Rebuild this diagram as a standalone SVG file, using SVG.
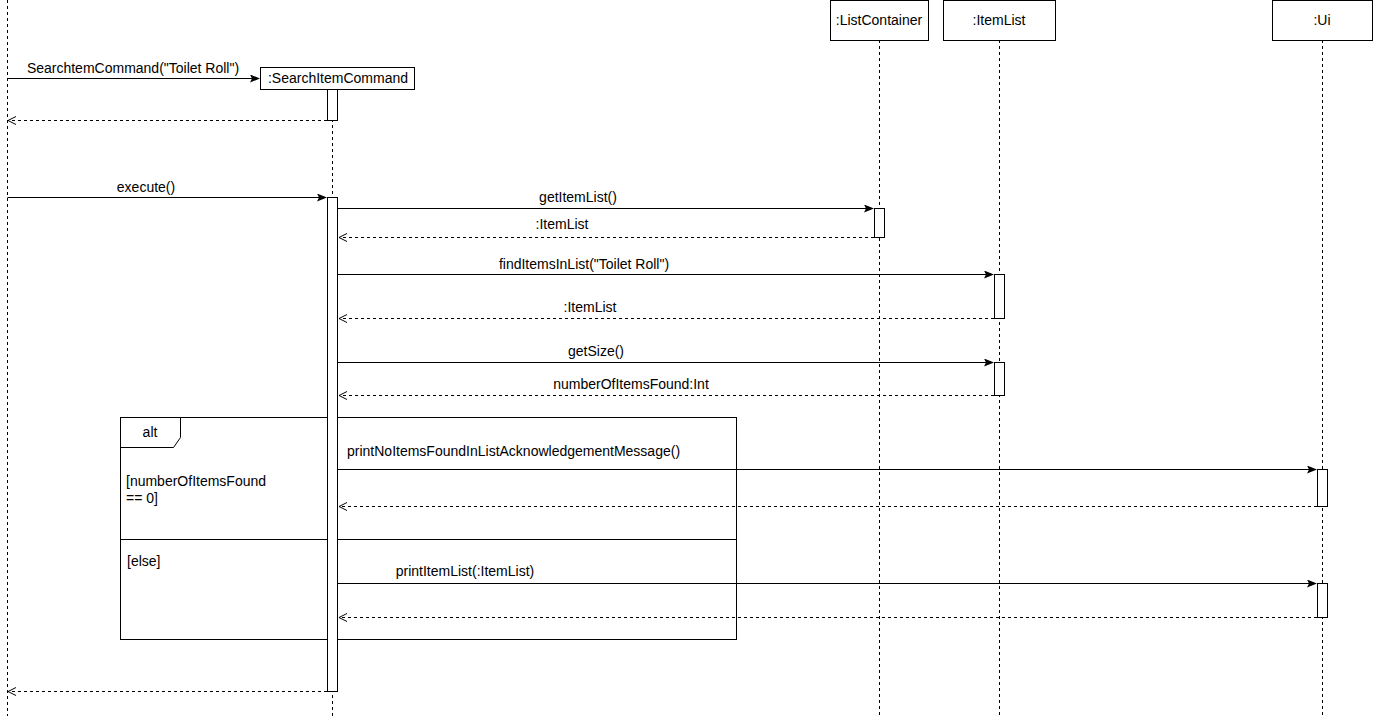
<svg xmlns="http://www.w3.org/2000/svg" width="1373" height="716" viewBox="0 0 1373 716">
<defs>
<marker id="filled" markerWidth="10" markerHeight="8" refX="9" refY="4" orient="auto" markerUnits="userSpaceOnUse"><path d="M0,0 L10,4 L0,8 L2,4 Z" fill="#000"/></marker>
<marker id="open" markerWidth="10" markerHeight="10" refX="9" refY="5" orient="auto" markerUnits="userSpaceOnUse"><path d="M1,1 L9,5 L1,9" fill="none" stroke="#000" stroke-width="1"/></marker>
</defs>
<style>
text{font-family:"Liberation Sans",Arial,sans-serif;font-size:14px;fill:#000}
.ll{stroke:#000;stroke-width:1;stroke-dasharray:3 3;fill:none}
.box{fill:#fff;stroke:#000;stroke-width:1}
.act{fill:#fff;stroke:#000;stroke-width:1}
.msg{stroke:#000;stroke-width:1;fill:none;marker-end:url(#filled)}
.ret{stroke:#000;stroke-width:1;fill:none;stroke-dasharray:3 3;marker-end:url(#open)}
.c{text-anchor:middle}
</style>
<rect width="1373" height="716" fill="#fff"/>
<g id="lifelines">
<line class="ll" x1="7.5" y1="0" x2="7.5" y2="716"/>
<line class="ll" x1="332.5" y1="89" x2="332.5" y2="716"/>
<line class="ll" x1="879.5" y1="40" x2="879.5" y2="716"/>
<line class="ll" x1="999.5" y1="40" x2="999.5" y2="716"/>
<line class="ll" x1="1322.5" y1="40" x2="1322.5" y2="716"/>
</g>
<g id="alt-frame">
<rect x="120.5" y="417.5" width="616" height="222" fill="none" stroke="#000"/>
<path d="M120.5,447.5 L173.5,447.5 L180.5,437.5 L180.5,417.5" fill="none" stroke="#000"/>
<text x="150" y="437" class="c">alt</text>
<line x1="120.5" y1="539.5" x2="736.5" y2="539.5" stroke="#000"/>
<text x="126" y="486">[numberOfItemsFound</text>
<text x="126" y="503">== 0]</text>
<text x="127" y="566">[else]</text>
</g>
<g id="node-searchitemcommand">
<rect class="box" x="260.5" y="67.5" width="154" height="22"/>
<text x="338" y="83" class="c">:SearchItemCommand</text>
<rect class="act" x="327.5" y="89.5" width="10" height="31"/>
<rect class="act" x="327.5" y="197.5" width="10" height="494"/>
</g>
<g id="node-listcontainer">
<rect class="box" x="830.5" y="0.5" width="98" height="40"/>
<text x="879" y="25" class="c">:ListContainer</text>
<rect class="act" x="874.5" y="208.5" width="10" height="29" stroke="#777"/>
</g>
<g id="node-itemlist">
<rect class="box" x="943.5" y="0.5" width="112" height="40"/>
<text x="999" y="25" class="c">:ItemList</text>
<rect class="act" x="994.5" y="274.5" width="10" height="44"/>
<rect class="act" x="994.5" y="362.5" width="10" height="33"/>
</g>
<g id="node-ui">
<rect class="box" x="1272.5" y="0.5" width="100" height="40"/>
<text x="1322" y="25" class="c">:Ui</text>
<rect class="act" x="1317.5" y="469.5" width="10" height="37"/>
<rect class="act" x="1317.5" y="583.5" width="10" height="34"/>
</g>
<g id="connectors">
<line class="msg" x1="7.5" y1="78.5" x2="259" y2="78.5"/>
<text x="133" y="73" class="c">SearchtemCommand("Toilet Roll")</text>
<line class="ret" x1="327" y1="120.5" x2="8" y2="120.5"/>
<line class="msg" x1="7.5" y1="197.5" x2="326" y2="197.5"/>
<text x="146" y="192" class="c">execute()</text>
<line class="msg" x1="338" y1="208.5" x2="873" y2="208.5"/>
<text x="578" y="202" class="c">getItemList()</text>
<line class="ret" x1="874" y1="237.5" x2="339" y2="237.5"/>
<text x="562" y="229" class="c">:ItemList</text>
<line class="msg" x1="338" y1="274.5" x2="993" y2="274.5"/>
<text x="584" y="269" class="c">findItemsInList("Toilet Roll")</text>
<line class="ret" x1="994" y1="318.5" x2="339" y2="318.5"/>
<text x="590" y="312" class="c">:ItemList</text>
<line class="msg" x1="338" y1="362.5" x2="993" y2="362.5"/>
<text x="596" y="356" class="c">getSize()</text>
<line class="ret" x1="994" y1="395.5" x2="339" y2="395.5"/>
<text x="631" y="389" class="c">numberOfItemsFound:Int</text>
<line class="msg" x1="338" y1="469.5" x2="1316" y2="469.5"/>
<text x="347" y="456">printNoItemsFoundInListAcknowledgementMessage()</text>
<line class="ret" x1="1317" y1="506.5" x2="339" y2="506.5"/>
<line class="msg" x1="338" y1="583.5" x2="1316" y2="583.5"/>
<text x="465" y="576" class="c">printItemList(:ItemList)</text>
<line class="ret" x1="1317" y1="617.5" x2="339" y2="617.5"/>
<line class="ret" x1="327" y1="691.5" x2="8" y2="691.5"/>
</g>
</svg>
